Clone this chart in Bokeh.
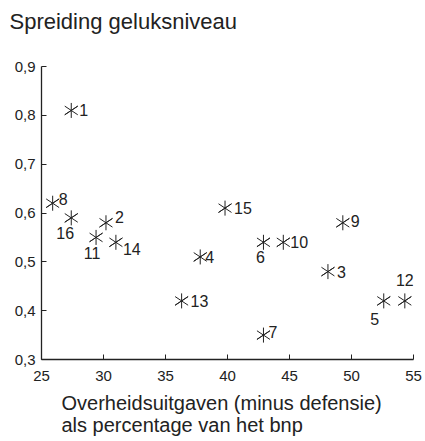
from bokeh.plotting import figure
from bokeh.models import Range1d, FixedTicker, CustomJSTickFormatter, Title, ColumnDataSource
from bokeh.embed import file_html
from bokeh.resources import INLINE
from bokeh.core.properties import value

# ---- data ----
country_ids = ["1", "2", "3", "4", "5", "6", "7", "8", "9", "10", "11", "12", "13", "14", "15", "16"]
gov_spending = [27.4, 30.2, 48.1, 37.8, 52.6, 42.9, 42.9, 25.9, 49.3, 44.5, 29.4, 54.3, 36.3, 31.0, 39.8, 27.4]
happiness_spread = [0.81, 0.58, 0.48, 0.51, 0.42, 0.54, 0.35, 0.62, 0.58, 0.54, 0.55, 0.42, 0.42, 0.54, 0.61, 0.59]
x_ticks = [25, 30, 35, 40, 45, 50, 55]
y_ticks = [0.3, 0.4, 0.5, 0.6, 0.7, 0.8, 0.9]

# label placement (screen pixel offsets) for each point
label_dx = [8, 9, 9, 5, -9, -3, 5, 6, 8, 7, -4, 0, 9, 7, 9, -6]
label_dy = [0, -6, 0, 0, 18, 15, -3, -4, -2, 0, 16, -21, 0, 7, 0, 15]
label_align = ["left", "left", "left", "left", "center", "center", "left", "left",
               "left", "left", "center", "center", "left", "left", "left", "center"]

FONT = "Liberation Sans"
INK = "#222222"

W, H = 425, 441
ML, MR, MT, MB = 41, 12, 66, 82

p = figure(width=W, height=H, output_backend="svg", toolbar_location=None,
           x_range=Range1d(25, 55), y_range=Range1d(0.3, 0.9),
           min_border_left=ML, min_border_right=MR, min_border_top=MT, min_border_bottom=MB)
p.outline_line_color = None
p.grid.visible = False
p.background_fill_color = "white"

for ax, ticks in ((p.xaxis[0], x_ticks), (p.yaxis[0], y_ticks)):
    ax.ticker = FixedTicker(ticks=ticks)
    ax.axis_line_color = INK
    ax.axis_line_width = 1.3
    ax.major_tick_line_color = INK
    ax.major_tick_in = 5
    ax.major_tick_out = 0
    ax.minor_tick_line_color = None
    ax.major_label_text_font = FONT
    ax.major_label_text_font_size = "15px"
    ax.major_label_text_color = INK

p.xaxis[0].major_label_standoff = 11
p.yaxis[0].major_label_standoff = 6
p.yaxis[0].formatter = CustomJSTickFormatter(code="return tick.toFixed(1).replace('.', ',');")

src = ColumnDataSource(dict(x=gov_spending, y=happiness_spread, t=country_ids,
                            dx=label_dx, dy=label_dy, al=label_align))

p.scatter("x", "y", source=src, marker="y", size=15, line_color=INK, line_width=1)
p.scatter("x", "y", source=src, marker="y", size=15, angle=3.14159265, line_color=INK, line_width=1)

p.text("x", "y", text="t", source=src, x_offset="dx", y_offset="dy", text_align="al",
       text_baseline="middle", text_font=value(FONT), text_font_size="16px", text_color=INK)

# title (top-left): spacer closest to the frame, then the title text
p.title.text = ""
p.add_layout(Title(text=" ", text_font_size="1px", standoff=30), "above")
p.add_layout(Title(text="Spreiding geluksniveau", align="left", offset=-32, standoff=0,
                   text_font=FONT, text_font_size="22px", text_font_style="normal",
                   text_color=INK), "above")

# x-axis caption (two lines, left aligned)
p.add_layout(Title(text="Overheidsuitgaven (minus defensie)\nals percentage van het bnp",
                   align="left", offset=20, standoff=12, text_font=FONT, text_font_size="20px",
                   text_font_style="normal", text_color=INK, text_line_height=1.0), "below")

open("out.html", "w").write(file_html(p, INLINE))
